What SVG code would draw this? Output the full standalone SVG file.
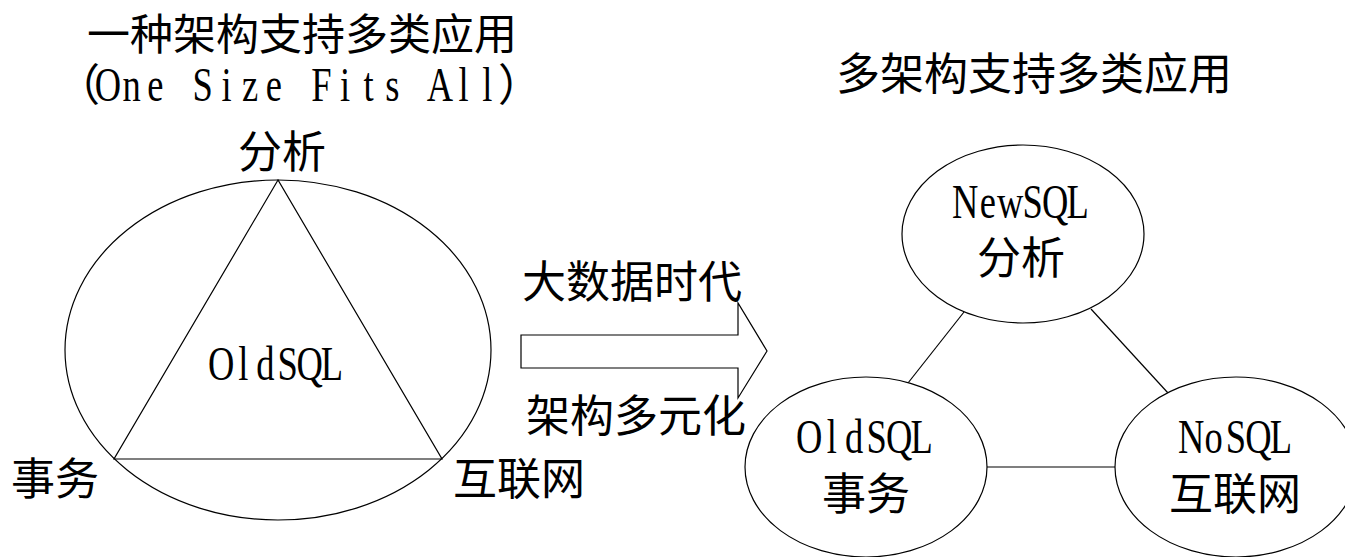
<svg xmlns="http://www.w3.org/2000/svg" width="1345" height="557" viewBox="0 0 1345 557">
<style>
.c{font-family:"Noto Sans CJK SC",sans-serif;font-size:44px;fill:#000}
.lat{font-family:"Liberation Serif",serif;font-size:48px;fill:#000;text-anchor:middle}
.s{fill:#fff;stroke:#000;stroke-width:1.2}
.l{stroke:#000;stroke-width:1.2;fill:none}
</style>
<rect width="1345" height="557" fill="#fff"/>
<g id="left-title">
<text class="c" x="302" y="50" text-anchor="middle" style="font-size:43px">一种架构支持多类应用</text>
<text class="c" x="100" y="101" text-anchor="end">（</text>
<text class="lat" transform="scale(0.76,1)" y="101" x="142.1 173.3 204.5 235.7 266.8 298 329.2 360.4 391.6 422.8 453.9 485.1 516.3 547.5 578.7 609.9 641.1">One Size Fits All</text>
<text class="c" x="498" y="101">）</text>
</g>
<g id="oldsql-all">
<ellipse class="s" cx="278" cy="350" rx="213" ry="170"/>
<polygon class="l" points="278,180 114,459 442,459"/>
<text class="lat" transform="scale(0.76,1)" y="380" x="290.9 320.1 349.2 378.4 407.6 436.7">OldSQL</text>
<text class="c" x="282" y="168" text-anchor="middle">分析</text>
<text class="c" x="55" y="495" text-anchor="middle">事务</text>
<text class="c" x="519" y="495" text-anchor="middle">互联网</text>
</g>
<g id="arrow">
<polygon class="s" points="521,335 738,335 738,303 767,351 738,398 738,368 521,368"/>
<text class="c" x="632" y="298" text-anchor="middle">大数据时代</text>
<text class="c" x="636" y="432" text-anchor="middle">架构多元化</text>
</g>
<g id="right-title">
<text class="c" x="1034" y="90" text-anchor="middle">多架构支持多类应用</text>
</g>
<g id="connectors">
<line class="l" x1="964" y1="312" x2="908" y2="383"/>
<line class="l" x1="1091" y1="309" x2="1168" y2="393"/>
<line class="l" x1="987" y1="467" x2="1115" y2="467"/>
</g>
<g id="newsql">
<ellipse class="s" cx="1023" cy="234" rx="121" ry="89"/>
<text class="lat" transform="scale(0.76,1)" y="218" x="1270.1 1299.7 1329.3 1358.9 1388.5 1418.1">NewSQL</text>
<text class="c" x="1021" y="274" text-anchor="middle">分析</text>
</g>
<g id="oldsql">
<ellipse class="s" cx="866" cy="467" rx="121" ry="90"/>
<text class="lat" transform="scale(0.76,1)" y="453" x="1064.8 1094.4 1124 1153.6 1183.2 1212.8">OldSQL</text>
<text class="c" x="866" y="510" text-anchor="middle">事务</text>
</g>
<g id="nosql">
<ellipse class="s" cx="1236" cy="467" rx="121" ry="90"/>
<text class="lat" transform="scale(0.76,1)" y="453" x="1567.4 1596.8 1626.3 1655.8 1685.3">NoSQL</text>
<text class="c" x="1235" y="510" text-anchor="middle">互联网</text>
</g>
</svg>
